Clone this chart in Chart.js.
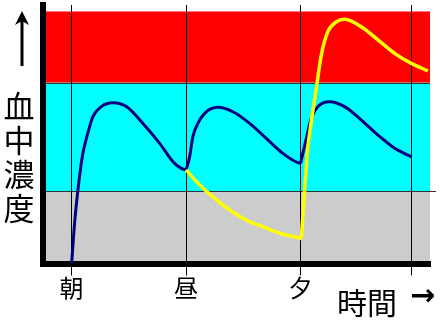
<!DOCTYPE html>
<html lang="ja">
<head>
<meta charset="UTF-8">
<script src="https://cdn.jsdelivr.net/npm/chart.js"></script>
<style>
  html, body { margin: 0; padding: 0; background: #fff; }
  #wrap { width: 442px; height: 320px; }
</style>
</head>
<body>
<div id="wrap"><canvas id="myChart"></canvas></div>
<script>
// x: 0 = 朝, 1 = 昼, 2 = 夕
const timeTicks = [0, 1, 2, 2.97];
const timeLabels = ['朝', '昼', '夕', ''];
const yTitle = '血中濃度';
const xTitle = '時間';
// band limits (gray / cyan / red)
const zoneEdges = [0, 2.8, 7, 9.75];

// blue curve, one piece per dose
const blueMorning = [[0, 0], [0.026, 1.57], [0.055, 2.84], [0.093, 4.13], [0.142, 5.05], [0.186, 5.68],
  [0.259, 6.07], [0.361, 6.22], [0.478, 6.07], [0.623, 5.42], [0.769, 4.65], [0.885, 3.94], [0.958, 3.68], [1.0, 3.62]];
const blueNoon = [[1.0, 3.62], [1.031, 4.13], [1.059, 4.91], [1.103, 5.42], [1.162, 5.81], [1.278, 6.04],
  [1.408, 5.87], [1.555, 5.42], [1.70, 4.84], [1.845, 4.26], [1.976, 3.90], [2.0, 3.88]];
const blueEvening = [[2.0, 3.88], [2.05, 4.84], [2.093, 5.62], [2.151, 6.07], [2.253, 6.26], [2.384, 6.07],
  [2.530, 5.55], [2.675, 4.97], [2.821, 4.46], [2.967, 4.13]];

// yellow curve
const yellowNoon = [[1.0, 3.62], [1.118, 3.04], [1.234, 2.58], [1.380, 2.07], [1.526, 1.68], [1.671, 1.42],
  [1.817, 1.17], [2.006, 0.97]];
const yellowEvening = [[2.006, 0.97], [2.035, 2.84], [2.061, 4.39], [2.093, 5.49], [2.137, 6.78], [2.181, 8.07],
  [2.238, 8.97], [2.312, 9.35], [2.384, 9.45], [2.530, 9.16], [2.675, 8.65], [2.821, 8.13], [2.967, 7.74], [3.112, 7.45]];

const toXY = arr => arr.map(p => ({ x: p[0], y: p[1] }));

const curve = (data, color, width, order) => ({
  data: toXY(data),
  borderColor: color,
  borderWidth: width,
  pointRadius: 0,
  fill: false,
  cubicInterpolationMode: 'monotone',
  order: order
});

const zonesPlugin = {
  id: 'zones',
  beforeDraw(chart) {
    const { ctx, chartArea: a, scales: { y } } = chart;
    const colors = ['#cccccc', '#00ffff', '#ff0000'];
    ctx.save();
    for (let i = 0; i < colors.length; i++) {
      const top = y.getPixelForValue(zoneEdges[i + 1]);
      const bot = y.getPixelForValue(zoneEdges[i]);
      ctx.fillStyle = colors[i];
      ctx.fillRect(a.left, top, a.right - a.left, bot - top);
    }
    ctx.strokeStyle = '#333';
    ctx.lineWidth = 1;
    let yy = Math.round(y.getPixelForValue(zoneEdges[1])) + 0.5;
    ctx.beginPath(); ctx.moveTo(a.left, yy); ctx.lineTo(a.right + 6, yy); ctx.stroke();
    yy = Math.round(y.getPixelForValue(zoneEdges[2])) + 0.5;
    ctx.beginPath(); ctx.moveTo(a.left, yy); ctx.lineTo(a.right, yy); ctx.stroke();
    ctx.restore();
  },
  afterDraw(chart) {
    const { ctx } = chart;
    ctx.save();
    ctx.fillStyle = '#000';
    ctx.strokeStyle = '#000';
    // up arrow
    ctx.lineWidth = 3;
    ctx.beginPath(); ctx.moveTo(22, 66); ctx.lineTo(22, 18); ctx.stroke();
    ctx.beginPath();
    ctx.moveTo(22, 11); ctx.lineTo(29, 25); ctx.lineTo(22, 21); ctx.lineTo(15, 25); ctx.closePath(); ctx.fill();
    // vertical title
    ctx.font = '31px "Noto Sans CJK JP"';
    ctx.textAlign = 'center';
    ctx.textBaseline = 'middle';
    [...yTitle].forEach((ch, i) => ctx.fillText(ch, 19, 106 + i * 34));
    // time title
    ctx.textAlign = 'left';
    ctx.font = '30px "Noto Sans CJK JP"';
    ctx.fillText(xTitle, 337, 303);
    ctx.font = 'bold 30px "DejaVu Sans"';
    ctx.fillText('→', 410, 297);
    ctx.restore();
  }
};

new Chart(document.getElementById('myChart'), {
  type: 'line',
  data: {
    datasets: [
      curve(yellowNoon, '#ffff00', 3.5, 0),
      curve(yellowEvening, '#ffff00', 3.5, 0),
      curve(blueMorning, '#000080', 3, 1),
      curve(blueNoon, '#000080', 3, 1),
      curve(blueEvening, '#000080', 3, 1)
    ]
  },
  options: {
    responsive: true,
    maintainAspectRatio: false,
    animation: false,
    layout: { padding: { top: 5, right: 12, left: 0, bottom: 0 } },
    plugins: { legend: { display: false }, tooltip: { enabled: false } },
    scales: {
      x: {
        type: 'linear',
        min: -0.25,
        max: 3.13,
        afterFit: s => { s.height = 56.5; },
        afterBuildTicks: s => { s.ticks = timeTicks.map(v => ({ value: v })); },
        grid: { color: '#000', lineWidth: 1, tickLength: 12 },
        border: { color: '#000', width: 6 },
        ticks: {
          autoSkip: false,
          maxRotation: 0,
          padding: -2,
          color: '#000',
          font: { family: '"Noto Sans CJK JP"', size: 24 },
          callback: (v, i) => timeLabels[i]
        }
      },
      y: {
        min: 0,
        max: 10,
        afterFit: s => { s.width = 43; },
        grid: { display: false, drawTicks: false },
        border: { color: '#000', width: 6 },
        ticks: { display: false }
      }
    }
  },
  plugins: [zonesPlugin]
});
</script>
</body>
</html>
